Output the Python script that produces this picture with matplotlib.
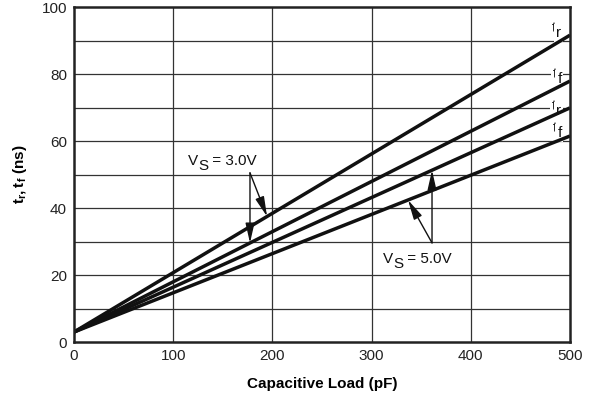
import matplotlib
matplotlib.use("Agg")
import matplotlib.pyplot as plt
import matplotlib.transforms as mtransforms
import numpy as np

plt.rcParams['font.family'] = ['Liberation Sans', 'DejaVu Sans']
plt.rcParams['mathtext.fontset'] = 'custom'
plt.rcParams['mathtext.rm'] = 'Liberation Sans'
plt.rcParams['mathtext.bf'] = 'Liberation Sans:bold'

load_pf = [0, 500]
tr_3v = [3.0, 91.6]
tf_3v = [3.0, 77.9]
tr_5v = [3.0, 69.9]
tf_5v = [3.0, 61.5]
x_ticks = [0, 100, 200, 300, 400, 500]
y_ticks = [0, 20, 40, 60, 80, 100]

fig = plt.figure(figsize=(5.94, 4.01), dpi=100)
ax = fig.add_axes([0.1246, 0.147, 0.835, 0.8355])

ax.set_xlim(0, 500)
ax.set_ylim(0, 100)
for xv in range(100, 500, 100):
    ax.axvline(xv, color='#333333', lw=0.9, zorder=1)
for yv in range(10, 100, 10):
    ax.axhline(yv, color='#333333', lw=0.9, zorder=1)

for ys in (tr_3v, tf_3v, tr_5v, tf_5v):
    ax.plot(load_pf, ys, color='#111111', lw=2.5, solid_capstyle='butt', zorder=3)

ax.set_xticks(x_ticks)
ax.set_yticks(y_ticks)
ax.tick_params(length=0, labelsize=11, pad=5, colors='#222222')
for s in ax.spines.values():
    s.set_linewidth(1.8)
    s.set_color('#222222')
    s.set_zorder(6)

ax.set_xlabel('Capacitive Load (pF)', fontsize=11, fontweight='bold', labelpad=10)
ax.set_ylabel(r'$\mathbf{t_r, t_f}$ (ns)', fontsize=11, fontweight='bold', labelpad=9)

renderer = fig.canvas.get_renderer()


def chain(x, y, parts, box=False, z=4, size=11):
    """Draw consecutive text pieces starting at data (x, y) baseline.
    parts: list of (string, dy_points)."""
    cur_x = x
    for s, dy in parts:
        tr = mtransforms.offset_copy(ax.transData, fig=fig, x=0, y=dy, units='points')
        kw = dict(fontsize=size, ha='left', va='baseline', transform=tr, zorder=z,
                  color='#111111')
        if box:
            kw['bbox'] = dict(boxstyle='square,pad=0.12', fc='white', ec='none')
        t = ax.text(cur_x, y, s, **kw)
        ext = t.get_window_extent(renderer)
        cur_x = ax.transData.inverted().transform((ext.x1, 0))[0]


sub_dy = -3.6
chain(481.9, 92.5, [('t', 0), ('r', sub_dy)], box=True, z=2)
chain(482.9, 78.8, [('t', 0), ('f', sub_dy)], box=True, z=2)
chain(481.9, 69.2, [('t', 0), ('r', sub_dy)], box=True, z=2)
chain(482.9, 62.7, [('t', 0), ('f', sub_dy)], box=True, z=2)


def yat(series, xv):
    return float(np.interp(xv, load_pf, series))


arrow = dict(arrowstyle='-|>,head_length=0.75,head_width=0.17', color='#111111',
             lw=1.0, mutation_scale=16, shrinkA=0, shrinkB=0)

# V_S = 3.0V
chain(114.9, 52.8, [('V', 0), ('S', sub_dy), (' = 3.0V', 0)])
start3 = (177.4, 50.5)
ax.annotate('', xy=(194.6, yat(tr_3v, 194.6)), xytext=start3, arrowprops=arrow, zorder=5)
ax.annotate('', xy=(177.4, yat(tf_3v, 177.4)), xytext=start3, arrowprops=arrow, zorder=5)

# V_S = 5.0V
chain(311.5, 23.6, [('V', 0), ('S', sub_dy), (' = 5.0V', 0)])
start5 = (360.9, 29.6)
ax.annotate('', xy=(360.9, yat(tr_5v, 360.9)), xytext=start5, arrowprops=arrow, zorder=5)
ax.annotate('', xy=(336.7, yat(tf_5v, 336.7)), xytext=start5, arrowprops=arrow, zorder=5)

fig.savefig('out.png', dpi=100)
